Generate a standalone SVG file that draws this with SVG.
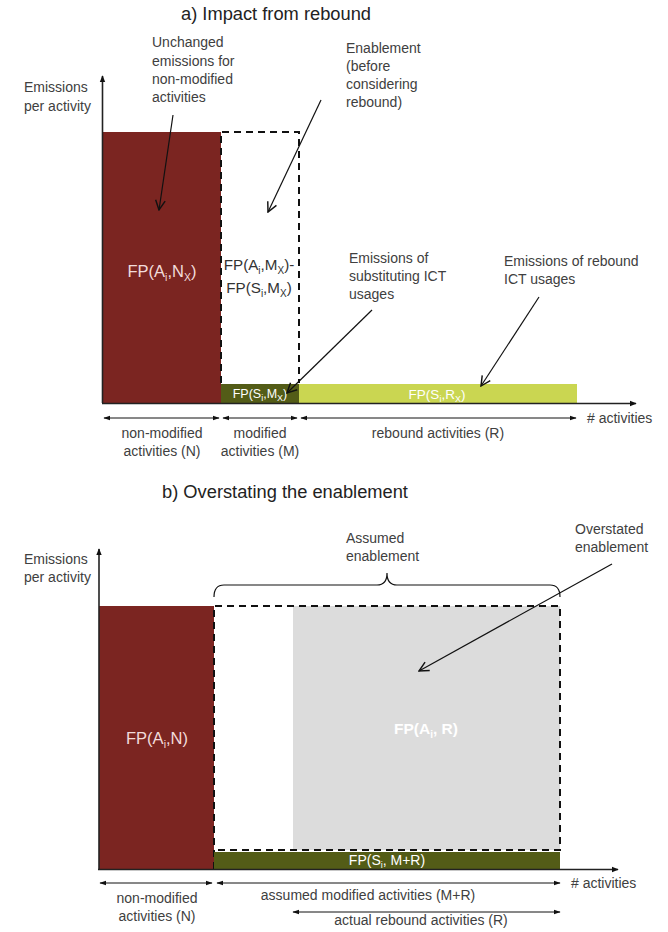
<svg xmlns="http://www.w3.org/2000/svg" width="668" height="932" viewBox="0 0 668 932">
<style>
text{font-family:"Liberation Sans",Arial,sans-serif;fill:#333}
.t{font-size:18.3px;fill:#222}
.l{font-size:14px;fill:#404040}
.fp{font-size:15.2px}
.w{fill:#f2dcdb}
.ww{fill:#ffffff}
.ax{stroke:#222;stroke-width:1.6;fill:none}
.dim{stroke:#111;stroke-width:1;fill:none;marker-start:url(#dh);marker-end:url(#dh)}
.ann{stroke:#111;stroke-width:1.2;fill:none;marker-end:url(#oh)}
.dash{stroke:#111;stroke-width:2;fill:none;stroke-dasharray:7,5}
</style>
<defs>
<marker id="ah" viewBox="0 0 10 10" refX="9" refY="5" markerWidth="7" markerHeight="7" markerUnits="userSpaceOnUse" orient="auto-start-reverse"><path d="M0,1 L10,5 L0,9 z" fill="#111"/></marker>
<marker id="dh" viewBox="0 0 10 10" refX="9" refY="5" markerWidth="7" markerHeight="7" markerUnits="userSpaceOnUse" orient="auto-start-reverse"><path d="M0,1.5 L10,5 L0,8.5 z" fill="#111"/></marker>
<marker id="oh" viewBox="0 0 10 10" refX="9" refY="5" markerWidth="12" markerHeight="12" markerUnits="userSpaceOnUse" orient="auto"><path d="M1,1 L9,5 L1,9" fill="none" stroke="#111" stroke-width="1.2"/></marker>
</defs>

<!-- Panel a -->
<text class="t" x="276" y="20" text-anchor="middle">a) Impact from rebound</text>
<g id="a-ylabel"><text class="l" x="24" y="92">Emissions</text><text class="l" x="24" y="111">per activity</text></g>
<g id="a-nonmod">
<rect x="103" y="132" width="118" height="271" fill="#7b2521"/>
<text class="w" font-size="16.5" x="162" y="277" text-anchor="middle">FP(A<tspan font-size="10.5" dy="4">i</tspan><tspan dy="-4">,N</tspan><tspan font-size="10.5" dy="4">X</tspan><tspan dy="-4">)</tspan></text>
</g>
<g id="a-enable">
<path class="dash" d="M221,383 L221,132 L299,132 L299,383"/>
<text class="fp" x="259" y="270" text-anchor="middle" fill="#222">FP(A<tspan font-size="10" dy="4">i</tspan><tspan dy="-4">,M</tspan><tspan font-size="10" dy="4">X</tspan><tspan dy="-4">)-</tspan></text>
<text class="fp" x="259" y="293" text-anchor="middle" fill="#222">FP(S<tspan font-size="10" dy="4">i</tspan><tspan dy="-4">,M</tspan><tspan font-size="10" dy="4">X</tspan><tspan dy="-4">)</tspan></text>
</g>
<g id="a-subst">
<rect x="221" y="384" width="78" height="19" fill="#535c17"/>
<text class="ww" x="260" y="398" font-size="12.5" text-anchor="middle">FP(S<tspan font-size="9" dy="3">i</tspan><tspan dy="-3">,M</tspan><tspan font-size="9" dy="3">X</tspan><tspan dy="-3">)</tspan></text>
</g>
<g id="a-rebound">
<rect x="299" y="384" width="278" height="19" fill="#cad651"/>
<text class="ww" x="437" y="399" font-size="13.5" text-anchor="middle">FP(S<tspan font-size="9" dy="3">i</tspan><tspan dy="-3">,R</tspan><tspan font-size="9" dy="3">X</tspan><tspan dy="-3">)</tspan></text>
</g>
<g id="a-axes">
<line class="ax" x1="102.5" y1="403" x2="102.5" y2="76" marker-end="url(#ah)"/>
<line class="ax" x1="102" y1="403.5" x2="636" y2="403.5" marker-end="url(#ah)"/>
</g>
<g id="a-notes">
<text class="l" x="152" y="47">Unchanged</text><text class="l" x="152" y="66">emissions for</text><text class="l" x="152" y="84">non-modified</text><text class="l" x="152" y="102">activities</text>
<text class="l" x="346" y="53">Enablement</text><text class="l" x="346" y="71">(before</text><text class="l" x="346" y="89">considering</text><text class="l" x="346" y="107">rebound)</text>
<text class="l" x="349" y="263">Emissions of</text><text class="l" x="349" y="281">substituting ICT</text><text class="l" x="349" y="299">usages</text>
<text class="l" x="504" y="266">Emissions of rebound</text><text class="l" x="504" y="284">ICT usages</text>
</g>
<g id="a-dims">
<text class="l" x="162" y="438" text-anchor="middle">non-modified</text><text class="l" x="162" y="456" text-anchor="middle">activities (N)</text>
<text class="l" x="260" y="438" text-anchor="middle">modified</text><text class="l" x="260" y="456" text-anchor="middle">activities (M)</text>
<text class="l" x="438" y="438" text-anchor="middle">rebound activities (R)</text>
<text class="l" x="587" y="423"># activities</text>
</g>
<g id="a-connectors">
<line class="ann" x1="173" y1="115" x2="159" y2="210"/>
<line class="ann" x1="321" y1="100" x2="268" y2="212"/>
<line class="ann" x1="372" y1="310" x2="287" y2="393"/>
<line class="ann" x1="539" y1="297" x2="481" y2="386"/>
<line class="dim" x1="104" y1="418" x2="219" y2="418"/>
<line class="dim" x1="223" y1="418" x2="297" y2="418"/>
<line class="dim" x1="301" y1="418" x2="576" y2="418"/>
</g>

<!-- Panel b -->
<text class="t" x="285" y="498" text-anchor="middle" font-size="17.5">b) Overstating the enablement</text>
<g id="b-ylabel"><text class="l" x="24" y="564">Emissions</text><text class="l" x="24" y="582">per activity</text></g>
<g id="b-nonmod">
<rect x="99" y="606" width="115" height="263" fill="#7b2521"/>
<text class="w" font-size="16.5" x="157" y="744" text-anchor="middle">FP(A<tspan font-size="10.5" dy="4">i</tspan><tspan dy="-4">,N)</tspan></text>
</g>
<g id="b-overstated">
<rect x="293" y="606" width="267" height="244" fill="#dcdcdc"/>
<text class="ww" font-size="15.5" x="426" y="734" text-anchor="middle" font-weight="bold">FP(A<tspan font-size="10" dy="4">i</tspan><tspan dy="-4">, R)</tspan></text>
</g>
<g id="b-assumed">
<path class="dash" d="M214,869 L214,606 L560,606 L560,850 L214,850"/>
<path d="M214,597 Q214,585 224,585 L377,585 Q387,585 387,573 Q387,585 397,585 L550,585 Q560,585 560,597" fill="none" stroke="#111" stroke-width="1.2"/>
</g>
<g id="b-subst">
<rect x="214" y="852" width="346" height="17" fill="#535c17"/>
<text class="ww" x="387" y="865" font-size="14" text-anchor="middle">FP(S<tspan font-size="9" dy="3">i</tspan><tspan dy="-3">, M+R)</tspan></text>
</g>
<g id="b-axes">
<line class="ax" x1="99" y1="869" x2="99" y2="549" marker-end="url(#ah)"/>
<line class="ax" x1="98" y1="869.5" x2="618" y2="869.5" marker-end="url(#ah)"/>
</g>
<g id="b-notes">
<text class="l" x="346" y="543">Assumed</text><text class="l" x="346" y="561">enablement</text>
<text class="l" x="575" y="534">Overstated</text><text class="l" x="575" y="552">enablement</text>
</g>
<g id="b-dims">
<text class="l" x="157" y="903" text-anchor="middle">non-modified</text><text class="l" x="157" y="921" text-anchor="middle">activities (N)</text>
<text class="l" x="368" y="900" text-anchor="middle">assumed modified activities (M+R)</text>
<text class="l" x="421" y="925" text-anchor="middle">actual rebound activities (R)</text>
<text class="l" x="571" y="888"># activities</text>
</g>
<g id="b-connectors">
<line class="ann" x1="612" y1="564" x2="419" y2="671"/>
<line class="dim" x1="100" y1="883" x2="212" y2="883"/>
<line class="dim" x1="217" y1="883" x2="560" y2="883"/>
<line class="dim" x1="293" y1="912" x2="560" y2="912"/>
</g>
</svg>
